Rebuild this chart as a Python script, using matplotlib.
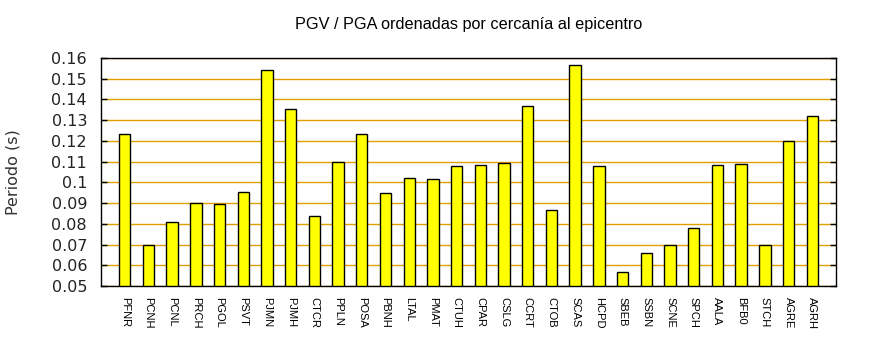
import matplotlib
matplotlib.use('Agg')
import matplotlib.pyplot as plt
import numpy as np

# Estaciones ordenadas por distancia al epicentro
stations = ['PFNR', 'PCNH', 'PCNL', 'PRCH', 'PGOL', 'PSVT', 'PJMN', 'PJMH', 'CTCR', 'PPLN',
            'POSA', 'PBNH', 'LTAL', 'PMAT', 'CTUH', 'CPAR', 'CSLG', 'CCRT', 'CTOB', 'SCAS',
            'HCPD', 'SBEB', 'SSBN', 'SCNE', 'SPCH', 'AALA', 'BFB0', 'STCH', 'AGRE', 'AGRH']
periodo = [0.1232, 0.0697, 0.0807, 0.0899, 0.0896, 0.0952, 0.1541, 0.1352, 0.0836, 0.1097,
           0.1232, 0.0947, 0.1020, 0.1015, 0.1077, 0.1083, 0.1092, 0.1367, 0.0865, 0.1565,
           0.1078, 0.0566, 0.0658, 0.0697, 0.0778, 0.1082, 0.1087, 0.0697, 0.1198, 0.1319]
yticks = [0.05, 0.06, 0.07, 0.08, 0.09, 0.1, 0.11, 0.12, 0.13, 0.14, 0.15, 0.16]
ytick_labels = ['0.05', '0.06', '0.07', '0.08', '0.09', '0.1', '0.11', '0.12', '0.13', '0.14', '0.15', '0.16']

fig = plt.figure(figsize=(8.7, 3.5), dpi=100)
ax = fig.add_axes([0.1161, 0.1829, 0.8448, 0.6514])

x = np.arange(len(stations))
ax.bar(x, periodo, width=0.48, bottom=0, color='#ffff00', edgecolor='black', linewidth=1.0, zorder=3)

ax.set_xlim(-1, len(stations))
ax.set_ylim(0.05, 0.16)
ax.set_yticks(yticks)
ax.set_yticklabels(ytick_labels, fontsize=11.5, family='DejaVu Sans', color='#222222')
ax.set_xticks(x)
ax.set_xticklabels(stations, rotation=270, fontsize=8, family='Liberation Sans')

ax.grid(axis='y', color='#e0a000', linewidth=1.0, zorder=0)
ax.tick_params(axis='y', direction='in', length=4, width=1, right=True, pad=10)
ax.tick_params(axis='x', length=0, pad=8)
for s in ax.spines.values():
    s.set_linewidth(1.0)
    s.set_zorder(4)

ax.set_ylabel('Periodo (s)', fontsize=11.5, family='DejaVu Sans', color='#333333', labelpad=22)
ax.set_title('PGV / PGA ordenadas por cercanía al epicentro', fontsize=11.7,
             family='Liberation Sans', pad=21)

fig.savefig('out.png', dpi=100)
